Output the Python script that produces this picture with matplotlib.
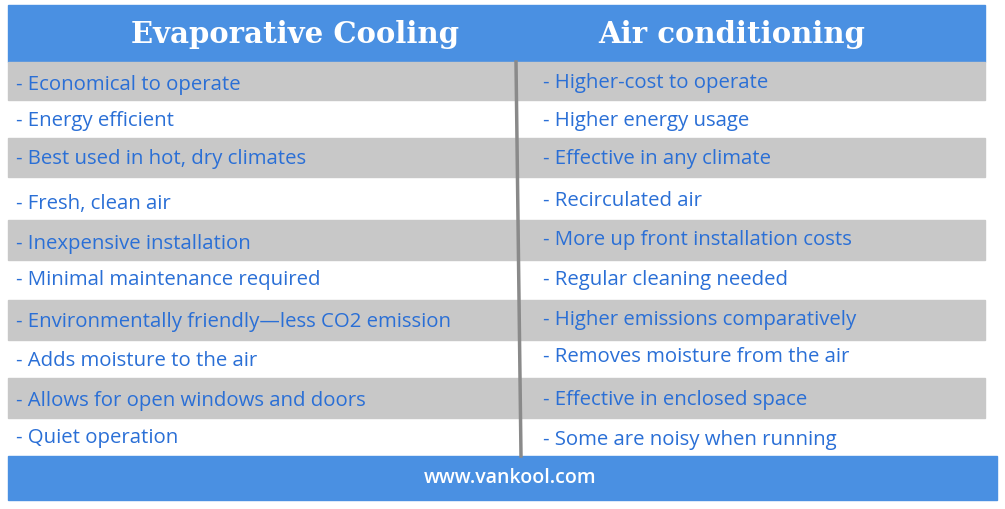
import matplotlib
matplotlib.use("Agg")
import matplotlib.pyplot as plt
from matplotlib.patches import Rectangle

headers = ["Evaporative Cooling", "Air conditioning"]
left_items = ["Economical to operate", "Energy efficient", "Best used in hot, dry climates",
              "Fresh, clean air", "Inexpensive installation", "Minimal maintenance required",
              "Environmentally friendly\u2014less CO2 emission", "Adds moisture to the air",
              "Allows for open windows and doors", "Quiet operation"]
right_items = ["Higher-cost to operate", "Higher energy usage", "Effective in any climate",
               "Recirculated air", "More up front installation costs", "Regular cleaning needed",
               "Higher emissions comparatively", "Removes moisture from the air",
               "Effective in enclosed space", "Some are noisy when running"]
footer = "www.vankool.com"

W, H = 1005, 509
fig = plt.figure(figsize=(W/100, H/100), dpi=100)
ax = fig.add_axes([0, 0, 1, 1])
ax.set_xlim(0, W); ax.set_ylim(H, 0); ax.axis("off")

blue = "#4a90e2"; gray = "#c8c8c8"; txt = "#2a6fd6"
ax.add_patch(Rectangle((8, 5), 977, 57, color=blue))
ax.add_patch(Rectangle((8, 456), 989, 44, color=blue))
row_tops = [62, 100, 138, 177, 220, 260, 300, 340, 378, 418, 456]
for i in range(len(left_items)):
    if i % 2 == 0:
        ax.add_patch(Rectangle((8, row_tops[i]), 977, row_tops[i+1]-row_tops[i], color=gray))
ax.plot([516, 521], [62, 456], color="#8a8a8a", lw=2.5)

ax.text(295, 34, headers[0], color="white", fontsize=21, fontweight="heavy",
        family="DejaVu Serif", ha="center", va="center")
ax.text(732, 34, headers[1], color="white", fontsize=21, fontweight="heavy",
        family="DejaVu Serif", ha="center", va="center")
ly = [85, 121, 159, 204, 244, 280, 322, 361, 401, 438]
ry = [83, 121, 159, 201, 240, 280, 320, 357, 400, 440]
for i, (l, r) in enumerate(zip(left_items, right_items)):
    ax.text(16, ly[i], "- " + l, color=txt, fontsize=14.7, va="center", family="Open Sans")
    ax.text(543, ry[i], "- " + r, color=txt, fontsize=14.7, va="center", family="Open Sans")
ax.text(510, 478, footer, color="white", fontsize=14, ha="center", va="center",
        family="Open Sans", fontweight="semibold")
fig.savefig("out.png", dpi=100)
